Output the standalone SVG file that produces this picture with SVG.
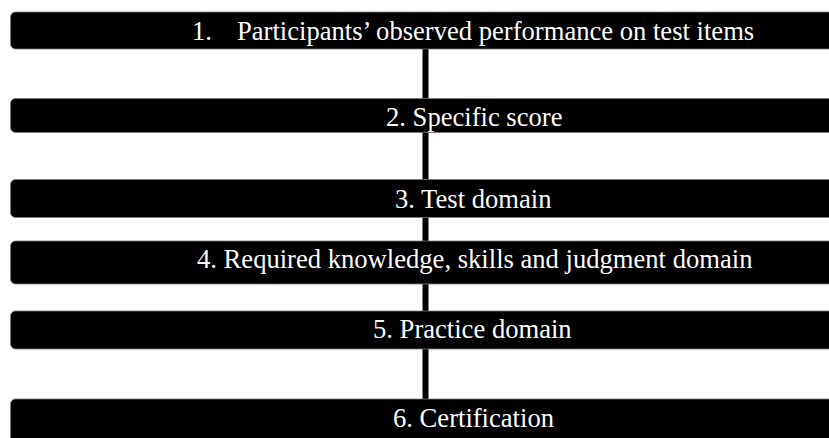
<svg xmlns="http://www.w3.org/2000/svg" width="829" height="438" viewBox="0 0 829 438">
  <style>
    .bar { fill: #000; stroke: #7a7a7a; stroke-width: 0.8; }
    .label { font-size: 26.6px; fill: #fff; }
    .link { stroke: #000; stroke-width: 6; fill: none; }
  </style>
  <rect width="829" height="438" fill="#fff"/>

  <!-- vertical connectors between the stacked bars -->
  <g id="connectors">
    <line class="link" x1="425.5" y1="49" x2="425.5" y2="99"/>
    <line class="link" x1="425.5" y1="132" x2="425.5" y2="180"/>
    <line class="link" x1="425.5" y1="217" x2="425.5" y2="242"/>
    <line class="link" x1="425.5" y1="283" x2="425.5" y2="312"/>
    <line class="link" x1="425.5" y1="348" x2="425.5" y2="400"/>
  </g>

  <g font-family="Liberation Serif, Tinos, DejaVu Serif, serif">
    <g id="node1">
      <rect class="bar" x="10.5" y="12" width="840" height="37" rx="5"/>
      <text class="label" y="40"><tspan x="192">1.</tspan><tspan x="237">Participants’ observed performance on test items</tspan></text>
    </g>
    <g id="node2">
      <rect class="bar" x="10.5" y="98.5" width="840" height="34" rx="5"/>
      <text class="label" x="386" y="126">2. Specific score</text>
    </g>
    <g id="node3">
      <rect class="bar" x="10.5" y="179.5" width="840" height="38" rx="5"/>
      <text class="label" x="395" y="207.5">3. Test domain</text>
    </g>
    <g id="node4">
      <rect class="bar" x="10.5" y="241" width="840" height="43" rx="5"/>
      <text class="label" x="197" y="268">4. Required knowledge, skills and judgment domain</text>
    </g>
    <g id="node5">
      <rect class="bar" x="10.5" y="311" width="840" height="38" rx="5"/>
      <text class="label" x="373" y="338">5. Practice domain</text>
    </g>
    <g id="node6">
      <rect class="bar" x="10.5" y="399" width="840" height="50" rx="5"/>
      <text class="label" x="393" y="427">6. Certification</text>
    </g>
  </g>
</svg>
